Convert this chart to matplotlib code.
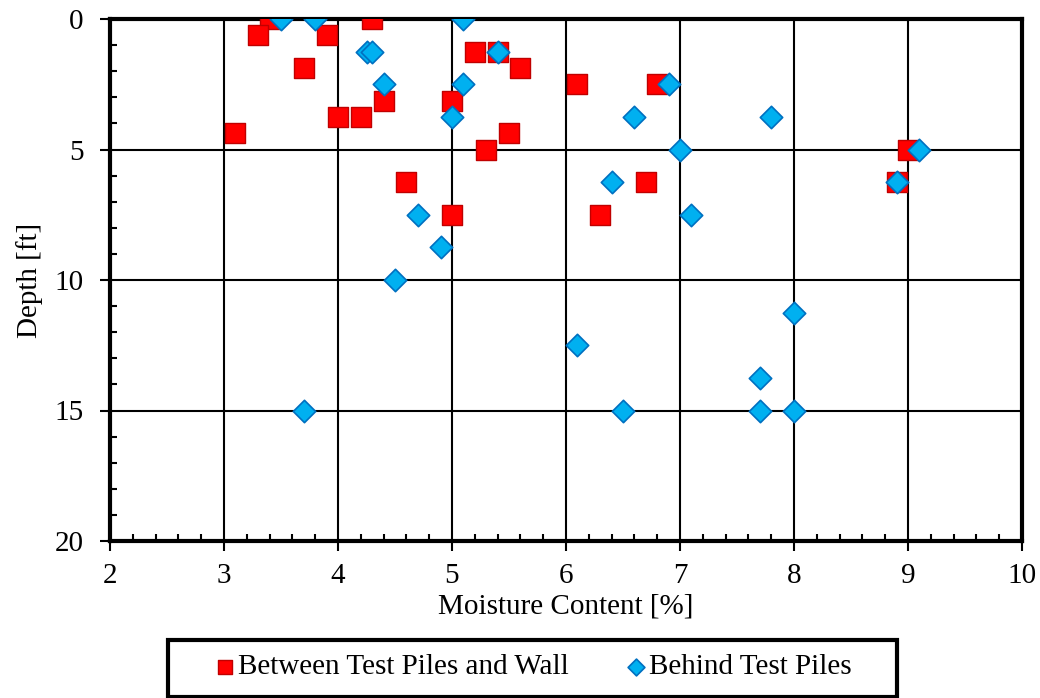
import matplotlib.pyplot as plt
import numpy as np
from matplotlib.ticker import MultipleLocator
from matplotlib.patches import Rectangle

plt.rcParams['font.family'] = ['Liberation Serif', 'DejaVu Serif']

# Between Test Piles and Wall
between_mc = [3.4, 3.3, 3.9, 3.7, 4.3, 5.2, 5.4, 5.6, 4.4, 4.0, 4.2, 3.1, 5.0, 5.5,
              5.3, 4.6, 5.0, 6.1, 6.8, 6.3, 6.7, 9.0, 8.9]
between_depth = [0, 0.625, 0.625, 1.875, 0, 1.25, 1.25, 1.875, 3.125, 3.75, 3.75, 4.375,
                 3.125, 4.375, 5, 6.25, 7.5, 2.5, 2.5, 7.5, 6.25, 5, 6.25]

# Behind Test Piles
behind_mc = [3.5, 3.8, 5.1, 4.25, 4.3, 4.4, 5.0, 5.1, 5.4, 6.9, 6.6, 7.0, 6.4, 7.1, 7.8,
             9.1, 8.9, 4.7, 4.9, 4.5, 6.1, 8.0, 7.7, 7.7, 8.0, 6.5, 3.7]
behind_depth = [0, 0, 0, 1.25, 1.25, 2.5, 3.75, 2.5, 1.25, 2.5, 3.75, 5, 6.25, 7.5, 3.75,
                5, 6.25, 7.5, 8.75, 10, 12.5, 11.25, 13.75, 15, 15, 15, 15]

W, H = 1040, 698
fig = plt.figure(figsize=(W / 100, H / 100), dpi=100)
ax = fig.add_axes([110/W, 1 - 541/H, 912/W, 522/H])

ax.scatter(between_mc, between_depth, marker='s', s=190, color='#ff0000',
           edgecolors='#c00000', linewidths=1, label='Between Test Piles and Wall', zorder=3)
ax.scatter(behind_mc, behind_depth, marker='D', s=130, color='#00b0f0',
           edgecolors='#0070c0', linewidths=1.2, label='Behind Test Piles', zorder=4)

ax.set_xlim(2, 10)
ax.set_ylim(20, 0)
ax.xaxis.set_major_locator(MultipleLocator(1))
ax.xaxis.set_minor_locator(MultipleLocator(0.2))
ax.yaxis.set_major_locator(MultipleLocator(5))
ax.yaxis.set_minor_locator(MultipleLocator(1))
ax.grid(True, which='major', color='black', linewidth=1.5)
ax.set_axisbelow(True)
ax.tick_params(which='major', direction='out', length=7, width=1.5, labelsize=21)
ax.tick_params(axis='x', which='major', pad=9)
ax.tick_params(axis='y', which='major', pad=12)
ax.tick_params(which='minor', direction='in', length=5, width=1.5)
for s in ax.spines.values():
    s.set_linewidth(3)

ax.set_xlabel('Moisture Content [%]', fontsize=21, labelpad=3)
ax.set_ylabel('Depth [ft]', fontsize=21, labelpad=8)

# legend box drawn separately so its size matches
fig.patches.append(Rectangle((168/W, 1 - 697/H), 729/W, 57/H, transform=fig.transFigure,
                             facecolor='white', edgecolor='black', linewidth=3))
leg = fig.legend(loc='center left', bbox_to_anchor=(210/W, 1 - 667/H), ncol=2,
                 fontsize=21, frameon=False, borderpad=0, borderaxespad=0,
                 handletextpad=-0.05, columnspacing=1.8, handlelength=1.0,
                 markerscale=0.75)

plt.savefig('out.png', dpi=100)
